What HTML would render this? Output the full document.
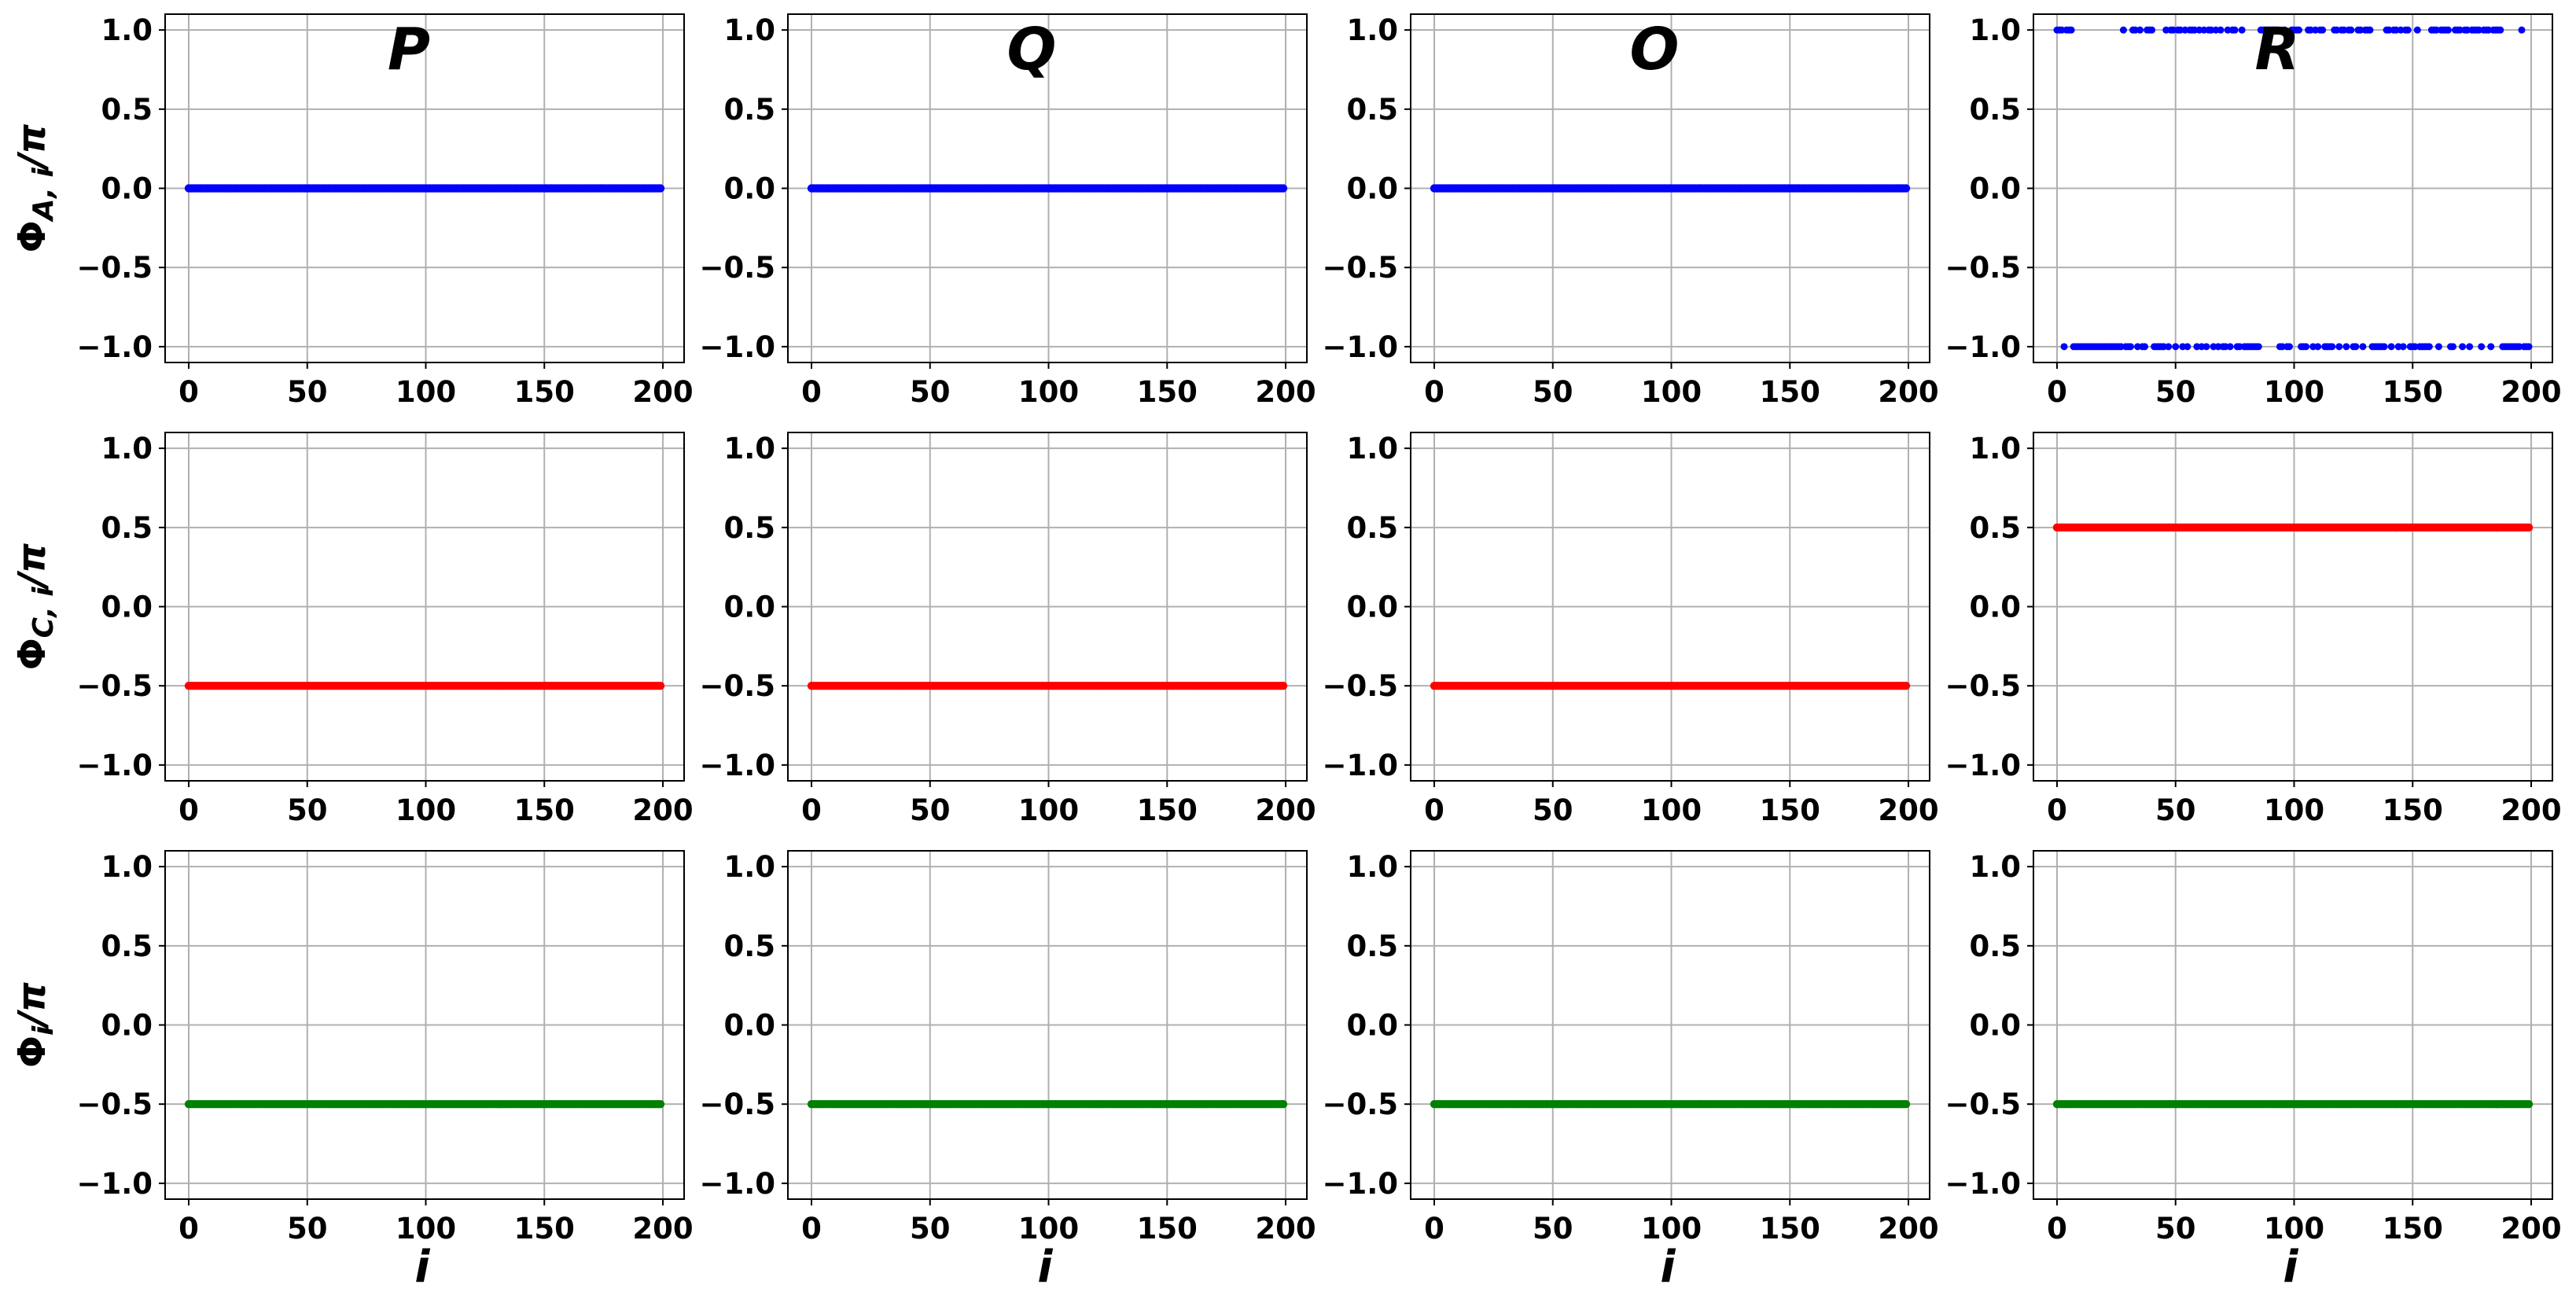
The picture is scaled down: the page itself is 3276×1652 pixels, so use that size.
<!DOCTYPE html>
<html><head><meta charset="utf-8">
<style>
html,body{margin:0;padding:0;background:#fff;}
svg{display:block;font-family:"DejaVu Sans","Liberation Sans",sans-serif;font-weight:bold;}
</style></head>
<body>
<svg id="fig" width="3276" height="1652" viewBox="0 0 3276 1652" xmlns="http://www.w3.org/2000/svg"></svg>
<script>
// ---- data ----
const panelTitles = ["P", "Q", "O", "R"];
const rowLabels = ["A", "C", ""];
const xTicks = [0, 50, 100, 150, 200];
const yTicks = [1.0, 0.5, 0.0, -0.5, -1.0];
const yTickLabels = ["1.0", "0.5", "0.0", "\u22120.5", "\u22121.0"];
const nSites = 200;
// constant levels for rows A, C, total for columns P, Q, O, R
const levelsA = [0, 0, 0, null];
const levelsC = [-0.5, -0.5, -0.5, 0.5];
const levelsTot = [-0.5, -0.5, -0.5, -0.5];
// Phi_A,i / pi for panel R (per site)
const phiA_R = [
 1,1,1,-1,1,1,1,-1,-1,-1,-1,-1,-1,-1,-1,-1,-1,-1,-1,-1,
 -1,-1,-1,-1,-1,-1,-1,-1,1,-1,-1,-1,1,1,-1,1,-1,-1,1,1,
 1,-1,-1,-1,-1,-1,1,-1,1,1,-1,1,1,-1,1,-1,1,1,1,-1,
 1,-1,1,-1,1,1,-1,1,-1,1,-1,-1,1,-1,1,1,-1,-1,1,-1,
 -1,-1,-1,-1,-1,-1,1,1,1,1,1,1,1,1,-1,-1,1,-1,-1,1,
 1,1,1,-1,-1,-1,1,1,-1,1,-1,1,1,-1,-1,-1,-1,1,1,-1,
 1,1,-1,1,1,-1,-1,1,1,-1,1,1,1,-1,-1,-1,-1,-1,-1,1,
 1,-1,1,1,-1,1,-1,1,1,-1,-1,-1,1,-1,-1,-1,-1,-1,1,1,
 1,-1,1,1,1,1,-1,-1,1,1,1,-1,1,1,-1,1,1,1,1,-1,
 1,1,1,-1,1,1,1,1,-1,-1,-1,-1,-1,-1,-1,-1,1,-1,-1,-1
];
// ---- layout ----
const colLeft = [210, 1002, 1794, 2586];
const rowTop = [18, 550, 1082];
const axW = 660, axH = 443;
const xMin = -9.95, xMax = 208.95, yMin = -1.1, yMax = 1.1;
const colors = ["#0000ff", "#ff0000", "#008000"];
const NS = "http://www.w3.org/2000/svg";
const svg = document.getElementById("fig");
function mk(tag, attrs, parent) {
  const e = document.createElementNS(NS, tag);
  for (const k in attrs) e.setAttribute(k, attrs[k]);
  (parent || svg).appendChild(e);
  return e;
}
function xScale(c, v) { return colLeft[c] + (v - xMin) / (xMax - xMin) * axW; }
function yScale(r, v) { return rowTop[r] + (yMax - v) / (yMax - yMin) * axH; }

for (let r = 0; r < 3; r++) {
  for (let c = 0; c < 4; c++) {
    const g = mk("g", {});
    
    
    const L = colLeft[c], T = rowTop[r];
    // grid
    xTicks.forEach(t => {
      const x = xScale(c, t);
      const ln = mk("line", {x1: x, x2: x, y1: T, y2: T + axH, stroke: "#b0b0b0", "stroke-width": 2}, g);
      
      
      mk("line", {x1: x, x2: x, y1: T + axH, y2: T + axH + 8, stroke: "#000", "stroke-width": 2}, g);
      const tx = mk("text", {x: x, y: T + axH + 50, "text-anchor": "middle", "font-size": 37, fill: "#000"}, g);
      tx.textContent = t;
      
      
    });
    yTicks.forEach((t, k) => {
      const y = yScale(r, t);
      const ln = mk("line", {x1: L, x2: L + axW, y1: y, y2: y, stroke: "#b0b0b0", "stroke-width": 2}, g);
      
      
      mk("line", {x1: L - 8, x2: L, y1: y, y2: y, stroke: "#000", "stroke-width": 2}, g);
      const tx = mk("text", {x: L - 16, y: y + 13, "text-anchor": "end", "font-size": 37, fill: "#000"}, g);
      tx.textContent = yTickLabels[k];
      
      
    });
    // series
    const sg = mk("g", {fill: colors[r]}, g);
    
    
    for (let i = 0; i < nSites; i++) {
      let v;
      if (r === 0) v = (levelsA[c] === null) ? phiA_R[i] : levelsA[c];
      else if (r === 1) v = levelsC[c];
      else v = levelsTot[c];
      const rad = (r === 0 && levelsA[c] === null) ? 4.5 : 5.2;
      const p = mk("circle", {cx: xScale(c, i), cy: yScale(r, v), r: rad}, sg);
      
      
    }
    // frame
    const fr = mk("rect", {x: L, y: T, width: axW, height: axH, fill: "none", stroke: "#000", "stroke-width": 2}, g);
    
    
    if (r === 0) {
      const tt = mk("text", {x: L + axW / 2 - 20, y: T + 70, "text-anchor": "middle", "font-size": 74, "font-style": "italic", fill: "#000"}, g);
      tt.textContent = panelTitles[c];
      
      
    }
    if (r === 2) {
      const xl = mk("text", {x: L + axW / 2 - 3, y: 1630, "text-anchor": "middle", "font-size": 56, "font-style": "italic", fill: "#000"}, g);
      xl.textContent = "i";
      
      
    }
  }
  // row y label
  const cy = rowTop[r] + axH / 2;
  const yl = mk("text", {x: 0, y: 0, transform: "translate(57," + cy + ") rotate(-90)", "text-anchor": "middle", "font-size": 48, fill: "#000"});
  
  
  const t1 = mk("tspan", {}, yl); t1.textContent = "\u03A6";
  const t2 = mk("tspan", {"font-size": 36, dy: 10, "font-style": "italic"}, yl);
  t2.textContent = rowLabels[r] ? (rowLabels[r] + ", i") : "i";
  const t3 = mk("tspan", {dy: -10, "font-style": "italic"}, yl); t3.textContent = "/\u03C0";
}
</script>
</body></html>
